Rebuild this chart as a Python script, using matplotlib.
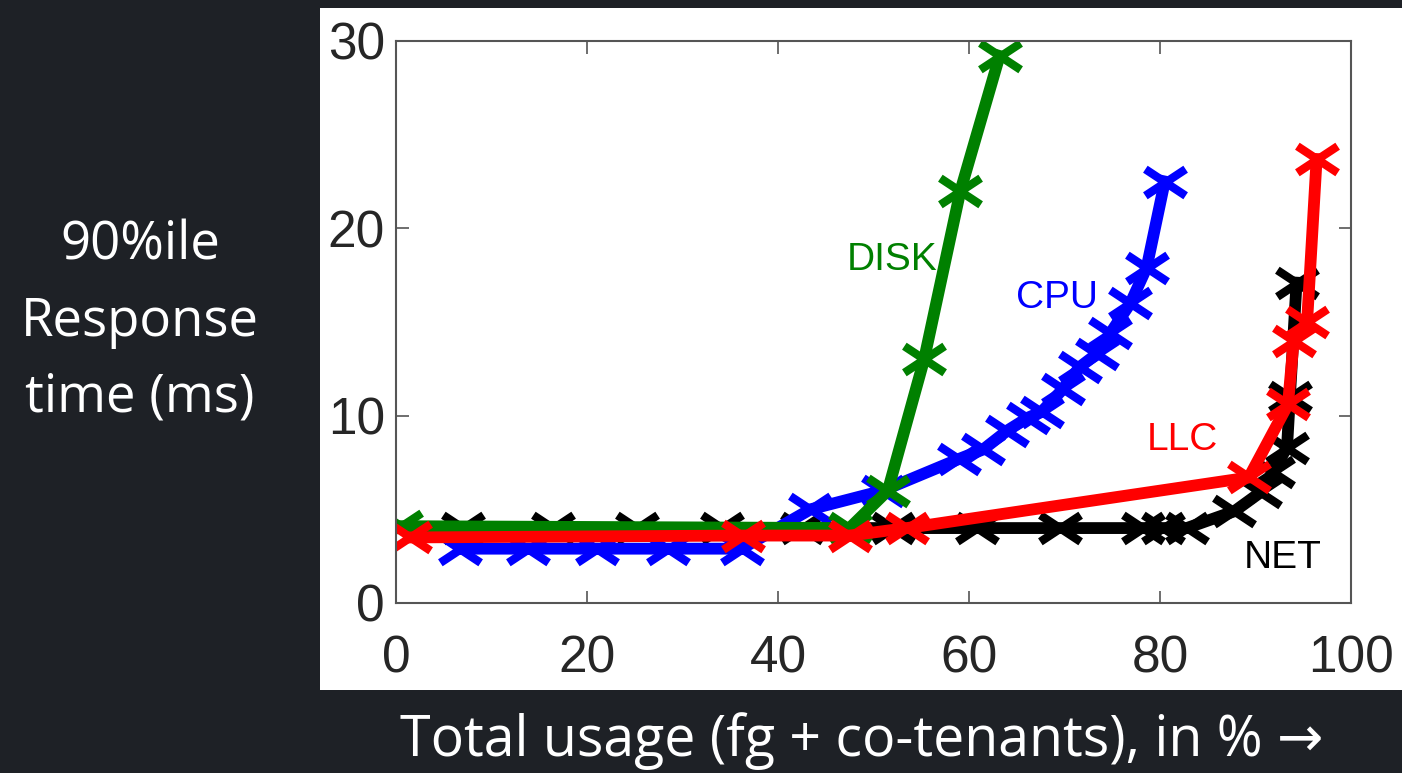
import matplotlib
matplotlib.use('Agg')

import matplotlib.pyplot as plt
from matplotlib.path import Path
from matplotlib.patches import Rectangle

# usage (%) vs 90%ile response time (ms), one pair per resource
net_x = [7.0, 16.4, 25.2, 34.1, 42.5, 52.0, 60.8, 69.5, 78.2, 80.3, 82.8, 87.8, 90.5, 91.8, 93.3, 93.6, 94.3]
net_y = [4.0, 4.0, 4.0, 4.0, 4.0, 4.0, 4.0, 4.0, 4.0, 4.0, 4.0, 4.9, 5.9, 7.0, 8.3, 11.0, 17.1]

cpu_x = [6.7, 13.8, 21.0, 28.5, 36.2, 43.4, 51.0, 59.0, 61.5, 64.0, 66.2, 67.6, 69.8, 71.6, 73.4, 74.8, 76.9, 78.6, 80.5]
cpu_y = [2.9, 2.9, 2.9, 2.9, 2.9, 5.0, 6.0, 7.7, 8.2, 9.2, 9.9, 10.2, 11.4, 12.6, 13.3, 14.4, 16.0, 17.9, 22.5]

disk_x = [0.5, 47.5, 51.5, 55.3, 59.1, 63.2]
disk_y = [4.1, 4.0, 6.0, 13.0, 22.0, 29.2]

llc_x = [1.5, 36.3, 47.5, 53.5, 89.3, 93.4, 94.0, 95.4, 96.4]
llc_y = [3.5, 3.6, 3.6, 4.0, 6.7, 10.6, 14.0, 15.0, 23.7]

labels = ['NET', 'CPU', 'DISK', 'LLC']
label_pos = [(92.8, 2.4), (69.2, 16.3), (51.9, 18.3), (82.3, 8.7)]
colors = ['black', '#0000ff', '#008000', '#ff0000']

BG = '#1e2126'


def main():
    fig = plt.figure(figsize=(14.02, 7.73), dpi=100, facecolor=BG)

    # white panel behind the matlab style plot
    fig.patches.append(Rectangle((320 / 1402, 1 - 690 / 773), 1082 / 1402, 682 / 773,
                                 transform=fig.transFigure, facecolor='white',
                                 edgecolor='none', zorder=-5))

    ax = fig.add_axes([396 / 1402, 1 - 603 / 773, 955 / 1402, 562 / 773])
    ax.set_facecolor('white')

    # wide 'x' marker, like the stretched original
    xmark = Path([(-1, -0.66), (1, 0.66), (-1, 0.66), (1, -0.66)],
                 [Path.MOVETO, Path.LINETO, Path.MOVETO, Path.LINETO])

    series = [(net_x, net_y), (cpu_x, cpu_y), (disk_x, disk_y), (llc_x, llc_y)]
    for (xs, ys), c in zip(series, colors):
        ax.plot(xs, ys, color=c, lw=8.5, marker=xmark, markersize=29,
                markeredgewidth=6, markeredgecolor=c, markerfacecolor=c,
                solid_joinstyle='miter', clip_on=True)

    for name, (tx, ty), c in zip(labels, label_pos, colors):
        ax.text(tx, ty, name, color=c, fontsize=28, family='Liberation Sans',
                ha='center', va='center')

    ax.set_xlim(0, 100)
    ax.set_ylim(0, 30)
    ax.set_xticks([0, 20, 40, 60, 80, 100])
    ax.set_yticks([0, 10, 20, 30])
    ax.tick_params(direction='in', length=9, width=1.2, color='#555555',
                   top=True, right=True, labelsize=37, labelcolor='#262626')
    ax.tick_params(axis='x', pad=23)
    ax.tick_params(axis='y', pad=8)
    for lab in ax.get_xticklabels() + ax.get_yticklabels():
        lab.set_family('Liberation Sans')
    for s in ax.spines.values():
        s.set_color('#555555')
        s.set_linewidth(1.5)

    fig.text(140 / 1402, 1 - 322 / 773, '90%ile\nResponse\ntime (ms)', color='white',
             fontsize=38, family='Open Sans', ha='center', va='center',
             linespacing=1.55)
    fig.text(862 / 1402, 1 - 741 / 773, 'Total usage (fg + co-tenants), in % \u2192',
             color='white', fontsize=40, family=['Open Sans', 'DejaVu Sans'],
             ha='center', va='center')

    fig.savefig('out.png', dpi=100, facecolor=BG)


if __name__ == '__main__':
    main()
